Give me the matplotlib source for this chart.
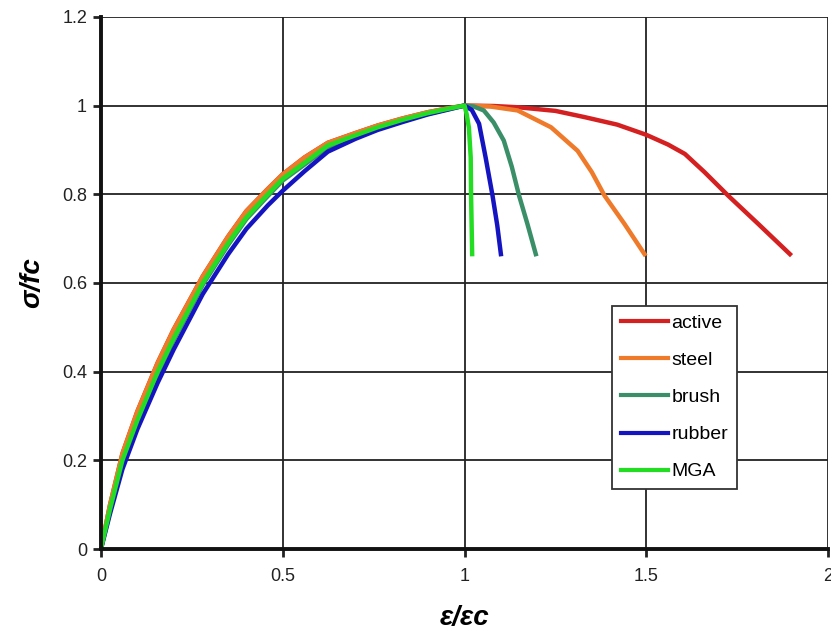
import matplotlib.pyplot as plt

plt.rcParams["font.family"] = ["Liberation Sans", "DejaVu Sans"]

# rising branch x values shared by all five curves
rise_x = [0, 0.025, 0.059, 0.1, 0.156, 0.2, 0.28, 0.35, 0.4, 0.459, 0.5,
          0.56, 0.624, 0.7, 0.761, 0.83, 0.899, 0.95, 1.0]

upper_rise_y = [0, 0.1, 0.215, 0.31, 0.42, 0.495, 0.615, 0.705, 0.762, 0.812, 0.845,
                0.883, 0.916, 0.938, 0.955, 0.971, 0.985, 0.993, 1.0]
mid_rise_y = [0, 0.09, 0.2, 0.29, 0.4, 0.475, 0.6, 0.69, 0.748, 0.8, 0.835,
              0.871, 0.91, 0.933, 0.951, 0.968, 0.983, 0.992, 1.0]
brush_rise_y = [0, 0.087, 0.196, 0.286, 0.396, 0.471, 0.596, 0.686, 0.744, 0.796, 0.831,
                0.867, 0.906, 0.93, 0.948, 0.966, 0.981, 0.991, 1.0]
low_rise_y = [0, 0.08, 0.18, 0.27, 0.375, 0.45, 0.575, 0.665, 0.722, 0.775, 0.808,
              0.852, 0.896, 0.925, 0.945, 0.963, 0.98, 0.99, 1.0]

# falling branches after the peak
active_fall_x = [1.08, 1.15, 1.25, 1.33, 1.42, 1.5, 1.56, 1.606, 1.66, 1.725, 1.808, 1.895]
active_fall_y = [0.999, 0.996, 0.988, 0.974, 0.957, 0.934, 0.912, 0.891, 0.85, 0.797, 0.733, 0.665]

steel_fall_x = [1.07, 1.146, 1.238, 1.311, 1.35, 1.385, 1.44, 1.495]
steel_fall_y = [0.998, 0.989, 0.951, 0.898, 0.85, 0.797, 0.733, 0.665]

brush_fall_x = [1.025, 1.053, 1.08, 1.108, 1.13, 1.15, 1.173, 1.196]
brush_fall_y = [0.998, 0.989, 0.962, 0.921, 0.862, 0.797, 0.733, 0.665]

rubber_fall_x = [1.02, 1.04, 1.058, 1.077, 1.09, 1.1]
rubber_fall_y = [0.99, 0.959, 0.883, 0.797, 0.73, 0.665]

mga_fall_x = [1.006, 1.012, 1.017, 1.018, 1.021]
mga_fall_y = [0.98, 0.95, 0.883, 0.797, 0.665]

labels = ["active", "steel", "brush", "rubber", "MGA"]
colors = ["#d42020", "#ee7a2a", "#3a8f68", "#1414c0", "#22dd22"]

x_ticks = [0, 0.5, 1, 1.5, 2]
x_ticklabels = ["0", "0.5", "1", "1.5", "2"]
y_ticks = [0, 0.2, 0.4, 0.6, 0.8, 1.0, 1.2]
y_ticklabels = ["0", "0.2", "0.4", "0.6", "0.8", "1", "1.2"]

fig = plt.figure(figsize=(8.31, 6.32), dpi=100)
ax = fig.add_axes([0.1215, 0.1313, 0.875, 0.842])

series = [
    (rise_x + active_fall_x, upper_rise_y + active_fall_y),
    (rise_x + steel_fall_x, upper_rise_y + steel_fall_y),
    (rise_x + brush_fall_x, brush_rise_y + brush_fall_y),
    (rise_x + rubber_fall_x, low_rise_y + rubber_fall_y),
    (rise_x + mga_fall_x, mid_rise_y + mga_fall_y),
]
for (xs, ys), lab, col in zip(series, labels, colors):
    ax.plot(xs, ys, color=col, lw=3.2, label=lab, solid_joinstyle="round")

ax.set_xlim(0, 2)
ax.set_ylim(0, 1.2)
ax.set_xticks(x_ticks)
ax.set_xticklabels(x_ticklabels)
ax.set_yticks(y_ticks)
ax.set_yticklabels(y_ticklabels)
ax.tick_params(labelsize=13, colors="#222222", direction="out", length=6, width=2)
ax.tick_params(axis="x", pad=8)
ax.tick_params(axis="y", pad=4)
ax.grid(True, color="#222222", lw=1.3)
ax.set_axisbelow(True)

for s in ["top", "right"]:
    ax.spines[s].set_visible(False)
for s in ["left", "bottom"]:
    ax.spines[s].set_linewidth(2.8)
    ax.spines[s].set_color("#111111")

ax.set_xlabel("ε/εc", fontsize=20, fontweight="bold", fontstyle="italic", labelpad=14)
ax.set_ylabel("σ/fc", fontsize=20, fontweight="bold", fontstyle="italic", labelpad=12)

leg = ax.legend(loc="upper left", bbox_to_anchor=(0.703, 0.457), borderaxespad=0,
                fancybox=False, framealpha=1, edgecolor="#333333", fontsize=14,
                handlelength=2.4, handletextpad=0.2, labelspacing=1.0,
                borderpad=0.45)
leg.get_frame().set_linewidth(1.3)
for line in leg.get_lines():
    line.set_linewidth(3)

fig.savefig("out.png", dpi=100)
